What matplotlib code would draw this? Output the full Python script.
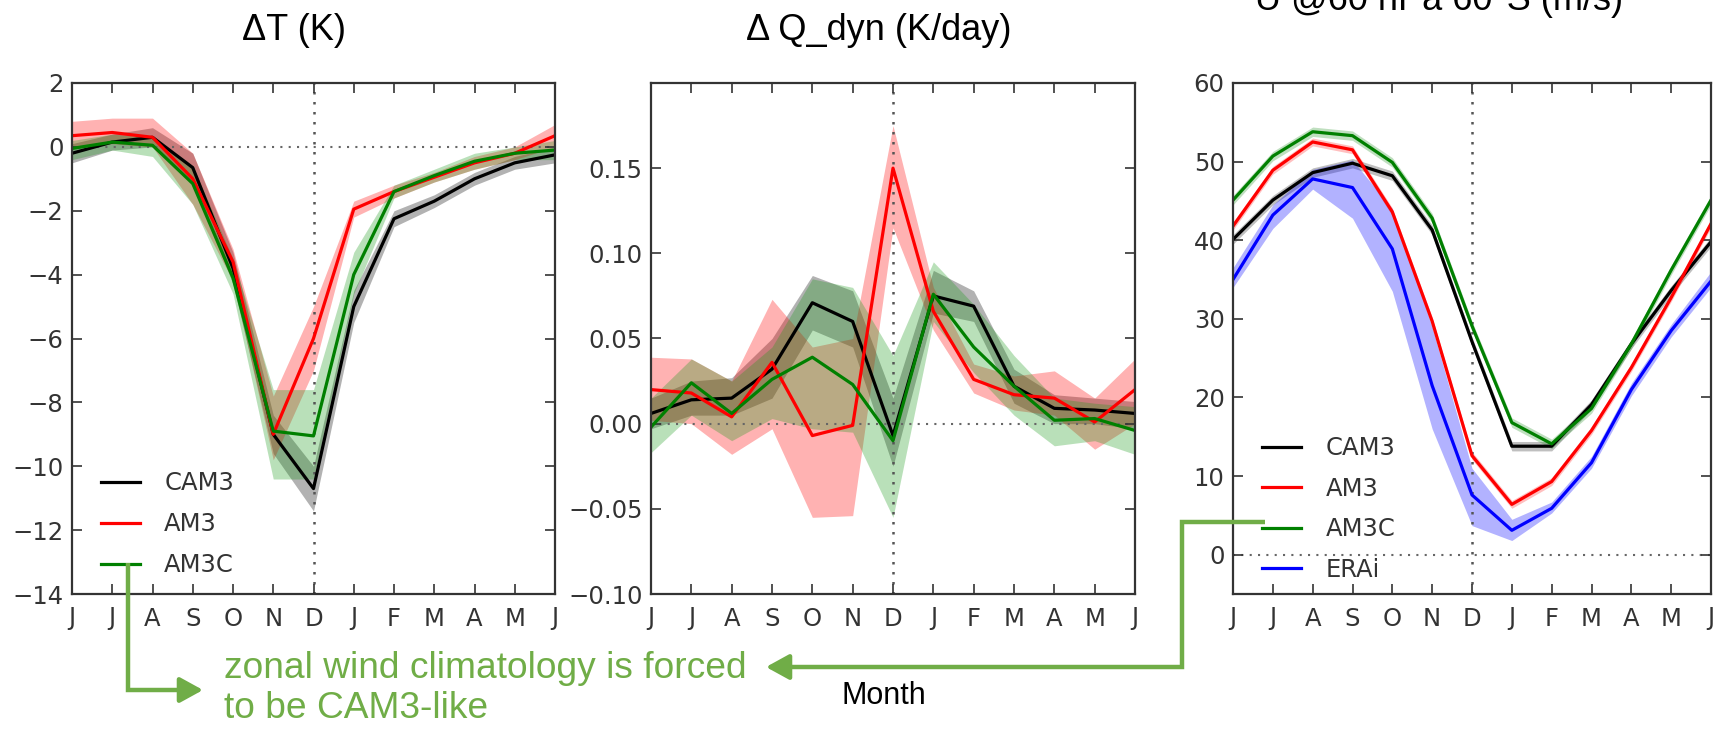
import numpy as np
import matplotlib
matplotlib.use("Agg")
import matplotlib.pyplot as plt
from matplotlib.lines import Line2D
from matplotlib.patches import FancyArrowPatch

months = ["J", "J", "A", "S", "O", "N", "D", "J", "F", "M", "A", "M", "J"]

# ---- Panel 1: Delta T (K)
dT_cam3 = [-0.2, 0.15, 0.3, -0.65, -3.8, -9.0, -10.7, -5.0, -2.25, -1.7, -1.0, -0.5, -0.25]
dT_cam3_lo = [-0.5, -0.1, 0.0, -1.1, -4.3, -9.6, -11.4, -5.5, -2.5, -1.9, -1.2, -0.7, -0.5]
dT_cam3_hi = [0.1, 0.4, 0.6, -0.2, -3.3, -8.4, -10.0, -4.5, -2.0, -1.5, -0.8, -0.3, 0.0]
dT_am3 = [0.35, 0.45, 0.3, -1.0, -3.6, -9.0, -6.0, -1.95, -1.4, -0.95, -0.5, -0.2, 0.35]
dT_am3_lo = [0.0, 0.1, 0.0, -1.8, -4.2, -9.8, -7.0, -2.2, -1.6, -1.1, -0.7, -0.4, 0.0]
dT_am3_hi = [0.8, 0.9, 0.9, -0.2, -3.2, -7.8, -5.0, -1.7, -1.2, -0.8, -0.3, 0.0, 0.7]
dT_am3c = [-0.05, 0.15, 0.05, -1.15, -4.1, -8.9, -9.05, -4.0, -1.4, -0.9, -0.45, -0.2, -0.1]
dT_am3c_lo = [-0.4, -0.1, -0.3, -1.8, -4.6, -10.4, -10.4, -4.6, -1.6, -1.1, -0.7, -0.4, -0.4]
dT_am3c_hi = [0.2, 0.4, 0.3, -0.6, -3.5, -7.6, -7.6, -3.3, -1.2, -0.7, -0.2, 0.0, 0.2]

# ---- Panel 2: Delta Q_dyn (K/day)
q_cam3 = [0.006, 0.014, 0.015, 0.032, 0.071, 0.060, -0.007, 0.075, 0.069, 0.022, 0.009, 0.008, 0.006]
q_cam3_lo = [-0.003, 0.005, 0.005, 0.015, 0.055, 0.045, -0.025, 0.065, 0.060, 0.012, 0.0, 0.0, -0.003]
q_cam3_hi = [0.015, 0.025, 0.027, 0.050, 0.087, 0.078, 0.015, 0.090, 0.078, 0.032, 0.017, 0.015, 0.013]
q_am3 = [0.020, 0.018, 0.004, 0.036, -0.007, -0.001, 0.150, 0.066, 0.026, 0.017, 0.015, 0.001, 0.020]
q_am3_lo = [0.002, 0.0, -0.018, -0.003, -0.055, -0.054, 0.115, 0.055, 0.018, 0.008, 0.005, -0.015, 0.0]
q_am3_hi = [0.039, 0.038, 0.025, 0.073, 0.045, 0.050, 0.175, 0.080, 0.035, 0.028, 0.031, 0.015, 0.038]
q_am3c = [-0.002, 0.024, 0.006, 0.026, 0.039, 0.023, -0.010, 0.076, 0.045, 0.022, 0.002, 0.003, -0.004]
q_am3c_lo = [-0.017, 0.005, -0.010, 0.003, -0.003, -0.005, -0.055, 0.060, 0.030, 0.005, -0.013, -0.010, -0.018]
q_am3c_hi = [0.015, 0.038, 0.025, 0.045, 0.085, 0.080, 0.040, 0.095, 0.070, 0.040, 0.015, 0.012, 0.010]

# ---- Panel 3: U @60 hPa 60S (m/s)
u_cam3 = [40.1, 45.1, 48.6, 49.8, 48.2, 41.3, 27.1, 13.8, 13.8, 19.1, 26.8, 33.6, 39.8]
u_am3 = [41.8, 48.9, 52.5, 51.5, 43.6, 29.7, 12.6, 6.4, 9.3, 15.8, 23.8, 32.7, 42.1]
u_am3c = [45.1, 50.7, 53.8, 53.3, 49.9, 42.8, 29.1, 16.8, 14.1, 18.6, 26.8, 36.2, 45.1]
u_erai = [35.0, 43.2, 47.8, 46.7, 38.9, 21.5, 7.6, 3.1, 5.9, 11.7, 21.0, 28.5, 34.8]
u_erai_lo = [34.0, 41.5, 46.5, 42.8, 33.5, 16.0, 3.7, 1.8, 5.3, 11.0, 20.2, 27.7, 34.0]
u_erai_hi = [36.5, 44.5, 49.0, 50.2, 44.0, 29.0, 11.0, 4.5, 6.7, 12.5, 21.8, 29.3, 36.0]
u_spread = [0.6, 0.5, 0.6]  # CAM3, AM3, AM3C half-widths

W, H = 1716, 729
fig = plt.figure(figsize=(W / 100, H / 100), dpi=100)

TICK_COLOR = "#333333"
FS = 17.5


def px_axes(x0, x1, y0, y1):
    return fig.add_axes([x0 / W, 1 - y1 / H, (x1 - x0) / W, (y1 - y0) / H])


def style(ax):
    x = np.arange(len(months))
    ax.set_xlim(0, 12)
    ax.set_xticks(x)
    ax.set_xticklabels(months)
    ax.tick_params(direction="in", top=True, right=True, length=7, width=1.2,
                   labelsize=FS, labelcolor=TICK_COLOR, color="#333333", pad=6)
    ax.tick_params(axis="x", pad=9)
    for s in ax.spines.values():
        s.set_linewidth(1.6)
        s.set_color("#333333")
    ax.axhline(0, color="#666666", ls=(0, (1, 3)), lw=1.5, zorder=1)
    ax.axvline(6, color="#555555", ls=(0, (1, 3)), lw=1.8, zorder=1)


x = np.arange(len(months))
LW = 2.3
ALPHA = 0.3

# Panel 1
ax1 = px_axes(72, 555, 83, 594)
ax1.fill_between(x, dT_cam3_lo, dT_cam3_hi, color="black", alpha=ALPHA, lw=0)
ax1.fill_between(x, dT_am3_lo, dT_am3_hi, color="red", alpha=ALPHA, lw=0)
ax1.fill_between(x, dT_am3c_lo, dT_am3c_hi, color="#1a9a1a", alpha=ALPHA, lw=0)
ax1.plot(x, dT_cam3, color="black", lw=LW, label="CAM3")
ax1.plot(x, dT_am3, color="red", lw=LW, label="AM3")
ax1.plot(x, dT_am3c, color="green", lw=LW, label="AM3C")
ax1.set_ylim(-14, 2)
ax1.set_yticks(np.arange(-14, 3, 2))
style(ax1)
leg1 = ax1.legend(loc="upper left", bbox_to_anchor=(0.06, 0.24), frameon=False,
                  fontsize=FS, handlelength=1.6, handletextpad=1.0,
                  labelspacing=0.7, borderpad=0, borderaxespad=0)
for t in leg1.get_texts():
    t.set_color(TICK_COLOR)

# Panel 2
ax2 = px_axes(651, 1135, 83, 594)
ax2.fill_between(x, q_cam3_lo, q_cam3_hi, color="black", alpha=ALPHA, lw=0)
ax2.fill_between(x, q_am3_lo, q_am3_hi, color="red", alpha=ALPHA, lw=0)
ax2.fill_between(x, q_am3c_lo, q_am3c_hi, color="#1a9a1a", alpha=ALPHA, lw=0)
ax2.plot(x, q_cam3, color="black", lw=LW)
ax2.plot(x, q_am3, color="red", lw=LW)
ax2.plot(x, q_am3c, color="green", lw=LW)
ax2.set_ylim(-0.10, 0.20)
ax2.set_yticks([-0.10, -0.05, 0.0, 0.05, 0.10, 0.15])
ax2.set_yticklabels(["\u22120.10", "\u22120.05", "0.00", "0.05", "0.10", "0.15"])
style(ax2)

# Panel 3
ax3 = px_axes(1233, 1711, 83, 594)
for vals, hw, col in [(u_cam3, u_spread[0], "black"), (u_am3, u_spread[1], "red"),
                      (u_am3c, u_spread[2], "green")]:
    v = np.array(vals)
    ax3.fill_between(x, v - hw, v + hw, color=col, alpha=0.25, lw=0)
ax3.fill_between(x, u_erai_lo, u_erai_hi, color="blue", alpha=ALPHA, lw=0)
ax3.plot(x, u_cam3, color="black", lw=LW, label="CAM3")
ax3.plot(x, u_am3, color="red", lw=LW, label="AM3")
ax3.plot(x, u_am3c, color="green", lw=LW, label="AM3C")
ax3.plot(x, u_erai, color="blue", lw=LW, label="ERAi")
ax3.set_ylim(-5, 60)
ax3.set_yticks(np.arange(0, 61, 10))
style(ax3)
leg3 = ax3.legend(loc="upper left", bbox_to_anchor=(0.061, 0.309), frameon=False,
                  fontsize=FS, handlelength=1.6, handletextpad=1.0,
                  labelspacing=0.68, borderpad=0, borderaxespad=0)
for t in leg3.get_texts():
    t.set_color(TICK_COLOR)

# Titles
TFS = 26
fig.text(294 / W, 1 - 31 / H, "\u0394T (K)", ha="center", va="center",
         fontsize=TFS, family="Liberation Sans")
fig.text(879 / W, 1 - 31 / H, "\u0394 Q_dyn (K/day)", ha="center", va="center",
         fontsize=TFS, family="Liberation Sans")
fig.text(1439 / W, 1 - 10 / H, "U @60 hPa 60\u00b0S (m/s)", ha="center", va="baseline",
         fontsize=TFS, family="Liberation Sans")

# Bottom annotations
GREEN = "#70AD47"
fig.text(224 / W, 1 - 668 / H, "zonal wind climatology is forced", ha="left", va="center",
         fontsize=26.7, color=GREEN, family="Liberation Sans")
fig.text(224 / W, 1 - 708 / H, "to be CAM3-like", ha="left", va="center",
         fontsize=26.7, color=GREEN, family="Liberation Sans")
fig.text(884 / W, 1 - 696 / H, "Month", ha="center", va="center",
         fontsize=22, color="black", family="Liberation Sans")


def fp(px, py):
    return (px / W, 1 - py / H)


def polyline(pts):
    xs = [p[0] / W for p in pts]
    ys = [1 - p[1] / H for p in pts]
    fig.add_artist(Line2D(xs, ys, color=GREEN, lw=3.2, transform=fig.transFigure,
                          solid_joinstyle="miter", solid_capstyle="butt"))


def arrowhead(p_from, p_to):
    fig.add_artist(FancyArrowPatch(fp(*p_from), fp(*p_to), transform=fig.transFigure,
                                   arrowstyle="-|>,head_length=1.0,head_width=0.55",
                                   mutation_scale=14, color=GREEN, lw=3.2,
                                   shrinkA=0, shrinkB=0))


polyline([(128, 563), (128, 690), (190, 690)])
arrowhead((185, 690), (203, 690))
polyline([(1265, 522), (1182, 522), (1182, 667), (780, 667)])
arrowhead((785, 667), (766, 667))

fig.savefig("out.png", dpi=100)
